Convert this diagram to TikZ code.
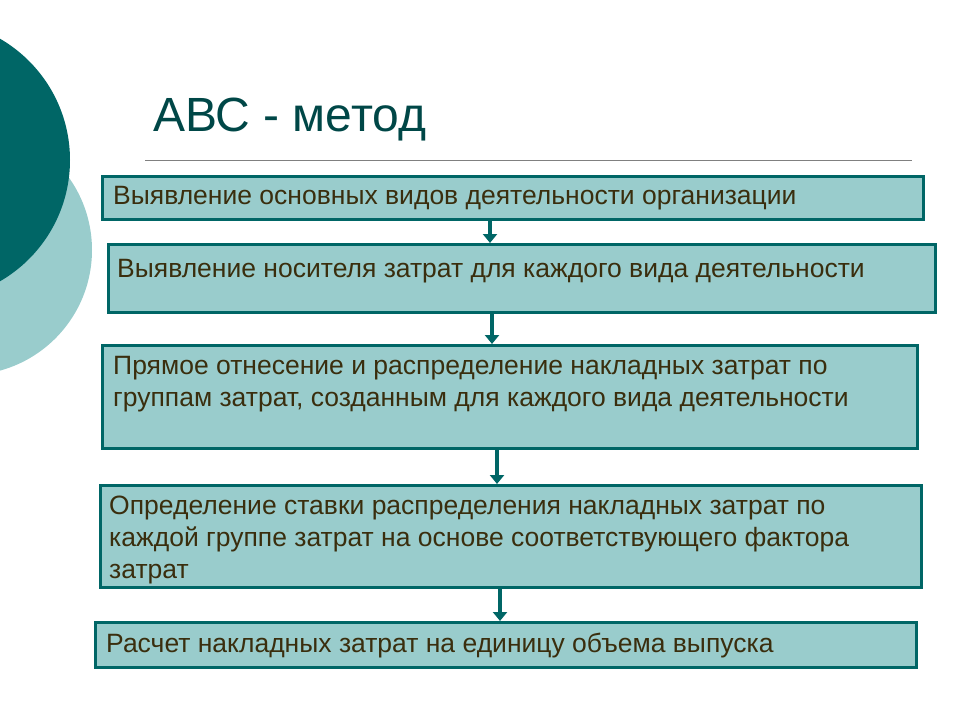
\documentclass[tikz,border=0pt]{standalone}
\usepackage{fontspec}
\setmainfont{Liberation Sans}
\usetikzlibrary{arrows.meta}
\definecolor{teal1}{HTML}{006666}
\definecolor{lteal}{HTML}{99CCCC}
\definecolor{txt}{HTML}{3A2E0E}
\tikzset{
  box/.style={draw=teal1, line width=3pt, fill=lteal},
  lbl/.style={anchor=north west, text=txt, font=\fontsize{26.5}{32}\selectfont, align=left, inner sep=0pt},
  arr/.style={draw=teal1, line width=3.5pt, -{Triangle[length=9pt,width=14pt]}}
}
\begin{document}
\begin{tikzpicture}[x=1pt,y=-1pt]
\useasboundingbox (0,0) rectangle (960,720);
\fill[lteal] (-33,250) circle (125);
\fill[teal1] (-70,160) circle (140);
\node[anchor=west, text=teal1!70!black, font=\fontsize{48}{48}\selectfont, inner sep=0pt] (title) at (153,120) {АВС - метод};
\coordinate (l1) at (145,160); \coordinate (l2) at (912,160);
\draw[gray, line width=1pt] (l1) -- (l2);
\draw[box] (102,176) rectangle (923,219);
\draw[box] (108,244) rectangle (935,312);
\draw[box] (102,345) rectangle (917,448);
\draw[box] (100,485) rectangle (921,587);
\draw[box] (95,622) rectangle (916,667);
\node[lbl] (t1) at (113,186) {Выявление основных видов деятельности организации};
\node[lbl] (t2) at (117,259) {Выявление носителя затрат для каждого вида деятельности};
\node[lbl] (t3) at (113,356) {Прямое отнесение и распределение накладных затрат по\\группам затрат, созданным для каждого вида деятельности};
\node[lbl] (t4) at (109,496) {Определение ставки распределения накладных затрат по\\каждой группе затрат на основе соответствующего фактора\\затрат};
\node[lbl] (t5) at (106,633) {Расчет накладных затрат на единицу объема выпуска};
\coordinate (a1) at (490,221); \coordinate (b1) at (490,243);
\coordinate (a2) at (492,314); \coordinate (b2) at (492,344);
\coordinate (a3) at (497,450); \coordinate (b3) at (497,484);
\coordinate (a4) at (500,589); \coordinate (b4) at (500,621);
\draw[arr] (a1) -- (b1);
\draw[arr] (a2) -- (b2);
\draw[arr] (a3) -- (b3);
\draw[arr] (a4) -- (b4);
\end{tikzpicture}
\end{document}
